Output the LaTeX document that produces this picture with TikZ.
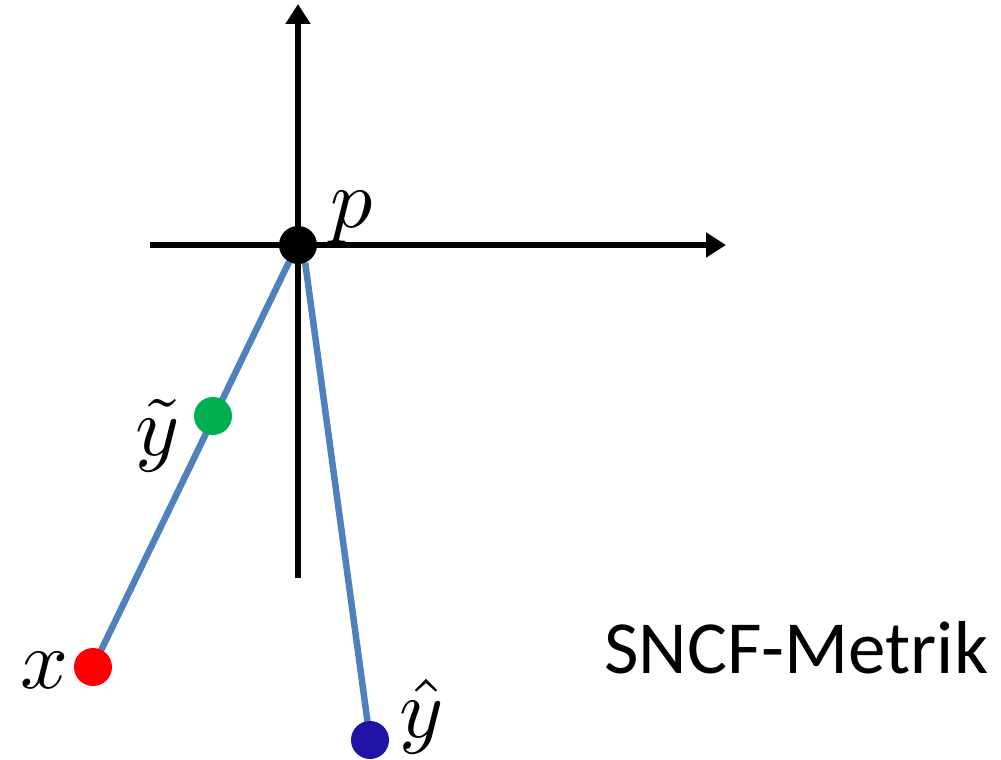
\documentclass[tikz,border=0pt]{standalone}
\usepackage{graphicx}
\usepackage{fontspec}
\setsansfont{Carlito}
\usetikzlibrary{arrows.meta}
\definecolor{lineblue}{RGB}{79,129,189}
\definecolor{dotgreen}{RGB}{0,176,80}
\definecolor{dotred}{RGB}{255,0,0}
\definecolor{dotblue}{RGB}{33,19,166}
\newcommand{\biglab}[1]{\scalebox{8.4}{$#1$}}
\tikzset{
  axis/.style={line width=6pt,-{Triangle[length=20pt,width=24pt]}},
  conn/.style={line width=6.5pt,lineblue},
  dot/.style={circle,inner sep=0pt,minimum size=#1},
  mlabel/.style={inner sep=0pt},
}
\begin{document}
\begin{tikzpicture}[x=1pt,y=-1pt]
\useasboundingbox (0,0) rectangle (1001,760);
\coordinate (vb) at (298,578);
\coordinate (vt) at (298,4);
\coordinate (hl) at (150,245);
\coordinate (hr) at (726,245);
\draw[axis] (vb) -- (vt);
\draw[axis] (hl) -- (hr);
\node[dot=20pt] (x) at (93,667) {};
\node[dot=22pt] (yh) at (370,740) {};
\node[dot=38pt] (p) at (298,245) {};
\draw[conn] (p.-118) -- (x.center);
\draw[conn] (p.-68) -- (yh.center);
\fill[black] (p.center) circle (19pt);
\fill[dotred] (x.center) circle (19pt);
\fill[dotblue] (yh.center) circle (19pt);
\node[dot=38pt,fill=dotgreen] (yt) at (213,416) {};
\node[mlabel] (pl) at (352,218) {\biglab{p}};
\node[mlabel] (ytl) at (158,436) {\biglab{\tilde y}};
\node[mlabel] (xl) at (45,670) {\biglab{x}};
\node[mlabel] (yhl) at (422,716) {\biglab{\hat y}};
\node[font=\sffamily\fontsize{75}{80}\selectfont,inner sep=0pt,anchor=west] (t) at (604,648) {SNCF-Metrik};
\end{tikzpicture}
\end{document}
